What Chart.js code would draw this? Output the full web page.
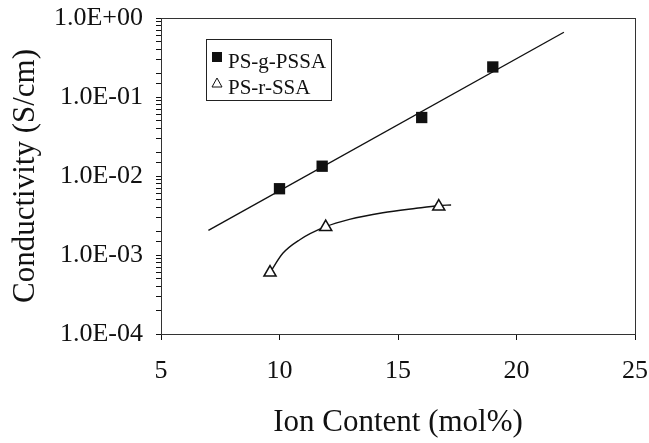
<!DOCTYPE html>
<html><head><meta charset="utf-8">
<style>html,body{margin:0;padding:0;background:#fff}#wrap{width:649px;height:443px;position:relative}</style>
<script src="https://cdn.jsdelivr.net/npm/chart.js@4.4.1/dist/chart.umd.min.js"></script>
</head><body><div id="wrap"><canvas id="c"></canvas></div>
<script>
const xTicks = [5, 10, 15, 20, 25];
const yTickValues = [1e-4, 1e-3, 1e-2, 1e-1, 1];
const yTickLabels = ['1.0E-04', '1.0E-03', '1.0E-02', '1.0E-01', '1.0E+00'];
const xTitle = 'Ion Content (mol%)';
const yTitle = 'Conductivity (S/cm)';

const graftLabel = 'PS-g-PSSA';
const graftX = [10.0, 11.8, 16.0, 19.0];
const graftY = [6.9e-3, 1.33e-2, 5.5e-2, 0.24];
const graftFitX = [7.0, 22.0];
const graftFitY = [2.05e-3, 0.66];

const randomLabel = 'PS-r-SSA';
const randomX = [9.6, 11.95, 16.72];
const randomY = [6.0e-4, 2.26e-3, 4.1e-3];
const randomFitX = [9.6, 10.14, 10.84, 11.94, 12.95, 14.36, 15.77, 16.72, 17.24];
const randomFitY = [6.0e-4, 1.05e-3, 1.55e-3, 2.28e-3, 2.83e-3, 3.43e-3, 3.90e-3, 4.21e-3, 4.30e-3];

const pts = (xs, ys) => xs.map((x, i) => ({x: x, y: ys[i]}));
const FONT = "'Liberation Serif', 'Times New Roman', serif";
const INK = '#111';

const framePlugin = {
  id: 'frame',
  afterDraw(chart) {
    const {ctx, chartArea: a} = chart;
    ctx.save();
    ctx.strokeStyle = '#333';
    ctx.lineWidth = 1;
    ctx.strokeRect(Math.round(a.left) + 0.5, Math.round(a.top) + 0.5, Math.round(a.right - a.left), Math.round(a.bottom - a.top));
    ctx.restore();
  }
};

const legendPlugin = {
  id: 'innerLegend',
  afterDraw(chart) {
    const {ctx, chartArea: a} = chart;
    const x0 = a.left + 45, y0 = a.top + 21, w = 125, h = 61;
    ctx.save();
    ctx.fillStyle = '#fff';
    ctx.fillRect(x0, y0, w, h);
    ctx.strokeStyle = '#222';
    ctx.lineWidth = 1;
    ctx.strokeRect(Math.round(x0) + 0.5, Math.round(y0) + 0.5, w, h);
    ctx.font = '21px ' + FONT;
    ctx.fillStyle = INK;
    ctx.textBaseline = 'alphabetic';
    ctx.textAlign = 'left';
    ctx.fillRect(x0 + 6, y0 + 13, 10, 10);
    ctx.fillText(chart.data.datasets[0].label, x0 + 22, y0 + 29);
    const tx = x0 + 11, ty = y0 + 44;
    ctx.beginPath();
    ctx.moveTo(tx, ty - 5);
    ctx.lineTo(tx + 5, ty + 4);
    ctx.lineTo(tx - 5, ty + 4);
    ctx.closePath();
    ctx.lineWidth = 1;
    ctx.strokeStyle = INK;
    ctx.stroke();
    ctx.fillText(chart.data.datasets[2].label, x0 + 22, y0 + 55);
    ctx.restore();
  }
};

new Chart(document.getElementById('c'), {
  type: 'scatter',
  data: {
    datasets: [
      {label: graftLabel, data: pts(graftX, graftY), pointStyle: 'rect', pointRadius: 8, pointHoverRadius: 8,
       backgroundColor: INK, borderColor: INK, borderWidth: 0, showLine: false, order: 1},
      {label: 'fit1', data: pts(graftFitX, graftFitY), showLine: true, pointRadius: 0, borderColor: INK,
       borderWidth: 1.4, order: 3},
      {label: randomLabel, data: pts(randomX, randomY), pointStyle: 'triangle', pointRadius: 7, pointHoverRadius: 7,
       backgroundColor: '#fff', borderColor: INK, borderWidth: 1.5, showLine: false, order: 2},
      {label: 'fit2', data: pts(randomFitX, randomFitY), showLine: true, pointRadius: 0, borderColor: INK,
       borderWidth: 1.4, cubicInterpolationMode: 'monotone', order: 4}
    ]
  },
  options: {
    responsive: true,
    maintainAspectRatio: false,
    animation: false,
    devicePixelRatio: 1,
    layout: {padding: {top: 18, right: 14, left: 0, bottom: 0}},
    plugins: {legend: {display: false}, tooltip: {enabled: false}},
    scales: {
      x: {
        type: 'linear', min: 5, max: 25,
        afterFit(s) { s.height = 109; s.paddingLeft = 0; s.paddingRight = 0; },
        afterBuildTicks(s) { s.ticks = xTicks.map(v => ({value: v})); },
        grid: {display: true, drawOnChartArea: false, drawTicks: true, tickLength: 6, color: INK},
        border: {display: true, color: '#333', width: 1},
        ticks: {color: INK, font: {family: FONT, size: 26}, padding: 16, maxRotation: 0, autoSkip: false},
        title: {display: true, text: xTitle, color: INK, font: {family: FONT, size: 31, lineHeight: 1},
                padding: {top: 0, bottom: 5}}
      },
      y: {
        type: 'logarithmic', min: 1e-4, max: 1,
        afterFit(s) { s.width = 161; s.paddingTop = 0; s.paddingBottom = 0; },
        grid: {display: true, drawOnChartArea: false, drawTicks: true, tickLength: 5, color: INK},
        border: {display: true, color: '#333', width: 1},
        ticks: {
          color: INK, font: {family: FONT, size: 26}, padding: 13, autoSkip: false,
          callback(value) {
            const i = yTickValues.findIndex(v => Math.abs(Math.log10(v) - Math.log10(value)) < 1e-6);
            return i >= 0 ? yTickLabels[i] : '';
          }
        },
        title: {display: true, text: yTitle, color: INK, font: {family: FONT, size: 31, lineHeight: 1},
                padding: {top: 10, bottom: 0}}
      }
    }
  },
  plugins: [framePlugin, legendPlugin]
});
</script></body></html>
